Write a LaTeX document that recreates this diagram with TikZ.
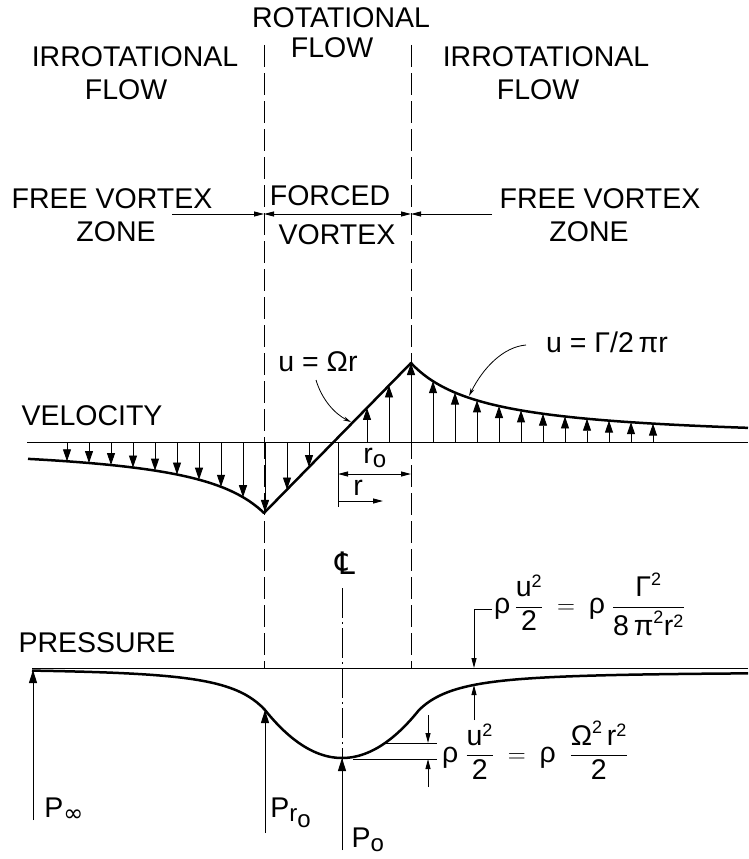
\documentclass[tikz,border=0pt]{standalone}
\usepackage{amsmath}
\usepackage{fontspec}
\setmainfont{Liberation Sans}
\newfontfamily\symfont{DejaVu Sans}
\usetikzlibrary{arrows.meta}
\newcommand{\lsub}[1]{\text{\fontsize{24}{24}\selectfont #1}}
\newcommand{\lsup}[1]{\text{\fontsize{18}{18}\selectfont #1}}

\begin{document}
\begin{tikzpicture}[x=1pt,y=-1pt,
  lbl/.style={font=\fontsize{28.5}{30}\selectfont, inner sep=0pt},
  thinline/.style={line width=1pt},
  profile/.style={line width=2.5pt, line join=round},
  zoneline/.style={line width=1pt, dash pattern=on 22pt off 6pt},
  cline/.style={line width=1pt, dash pattern=on 30pt off 4pt on 2pt off 4pt},
  vec/.style={line width=0.9pt, -{Triangle[length=12pt,width=8pt]}},
  parrow/.style={line width=1pt, -{Triangle[length=13pt,width=8pt]}},
  dim/.style={line width=1pt, -{Triangle[length=10pt,width=5pt]}},
  dimboth/.style={line width=1pt, {Triangle[length=10pt,width=5pt]}-{Triangle[length=10pt,width=5pt]}},
  leader/.style={line width=0.8pt, -{Stealth[length=8pt,width=4pt]}}]
\useasboundingbox (0,0) rectangle (748,859);

\node[lbl] (rot1) at (341,18) {ROTATIONAL};
\node[lbl] (rot2) at (332,48) {FLOW};
\node[lbl] (irrl1) at (135,57) {IRROTATIONAL};
\node[lbl] (irrl2) at (126,90) {FLOW};
\node[lbl] (irrr1) at (546,57) {IRROTATIONAL};
\node[lbl] (irrr2) at (538,90) {FLOW};
\node[lbl] (freel1) at (112,199) {FREE VORTEX};
\node[lbl] (freel2) at (116,232) {ZONE};
\node[lbl] (forced1) at (330,196) {FORCED};
\node[lbl] (forced2) at (337,235) {VORTEX};
\node[lbl] (freer1) at (600,199) {FREE VORTEX};
\node[lbl] (freer2) at (589,232) {ZONE};

\coordinate (zl) at (264,45);
\coordinate (zr) at (411,45);
\draw[zoneline] (zl) -- (264,668);
\draw[zoneline] (zr) -- (411,668);
\draw[dim] (172,214) -- (264,214);
\draw[dimboth] (264,214) -- (411,214);
\draw[dim] (492,214) -- (411,214);

\node[lbl] (vel) at (92,416) {VELOCITY};
\draw[thinline] (27,442) -- (748,442);
\draw[profile] plot[domain=28:264,samples=80] (\x,{442+71*73.5/(337.5-\x)})
  -- (411,363) -- plot[domain=411:748,samples=80] (\x,{442-79*73.5/(\x-337.5)});
\foreach \x in {67,89,...,243}
  \draw[vec] (\x,442) -- (\x,{442+71*73.5/(337.5-\x)});
\foreach \x in {265,287,309,367,389,411}
  \draw[vec] (\x,442) -- (\x,{513-(\x-264)/147*150});
\foreach \x in {433,455,...,653}
  \draw[vec] (\x,442) -- (\x,{442-79*73.5/(\x-337.5)});

\node[lbl] (omega) at (318,362) {u = Ωr};
\node[lbl] (gam) at (607,342) {u = Γ/2\,πr};
\draw[leader] (316,380) .. controls (322,400) and (335,414) .. (351,422);
\draw[leader] (526,345) .. controls (503,347) and (483,368) .. (469,396);

\draw[thinline] (338,442) -- (338,507);
\draw[dimboth] (338,474) -- (411,474);
\draw[dim] (338,501) -- (383,501);
\node[lbl] (ro) at (375,458) {$\text{r}_{\lsub{o}}$};
\node[lbl] (rr) at (358,488) {r};

\node[lbl, font=\fontsize{31}{31}\selectfont] (cl) at (345,563) {\symfont ℄};
\draw[cline] (342,588) -- (342,850);

\node[lbl] (pres) at (97,643) {PRESSURE};
\draw[thinline] (32,668) -- (748,668);
\draw[profile] plot[domain=32:265,samples=60] (\x,{668+42*(77/(342-\x))^2})
  -- plot[domain=265:419,samples=60] (\x,{758-48*((\x-342)/77)^2})
  -- plot[domain=419:748,samples=80] (\x,{672+38*(77/(\x-342))^2});

\draw[parrow] (33,820) -- (33,670);
\draw[parrow] (265,833) -- (265,710);
\draw[parrow] (342,850) -- (342,758);
\node[lbl] (pinf) at (64,810) {$\text{P}_{\lsub{\symfont ∞}}$};
\node[lbl] (pro) at (291,813) {$\text{P}_{\lsub{r}_{\lsub{o}}}$};
\node[lbl] (po) at (368,840) {$\text{P}_{\lsub{o}}$};

\draw[dim] (492,609) -- (474,609) -- (474,668);
\draw[dim] (474,720) -- (474,685);
\node[lbl, anchor=west] (pfree) at (494,604)
  {$\text{ρ}\,\dfrac{\text{u}^{\lsup{2}}}{\text{2}}\;=\;\text{ρ}\;\dfrac{\text{Γ}^{\lsup{2}}}{\text{8\,π}^{\lsup{2}}\text{r}^{\lsup{2}}}$};

\draw[thinline] (385,743) -- (437,743);
\draw[thinline] (353,759) -- (437,759);
\draw[dim] (428,715) -- (428,743);
\draw[dim] (428,787) -- (428,759);
\node[lbl, anchor=west] (pforced) at (442,750)
  {$\text{ρ}\;\dfrac{\text{u}^{\lsup{2}}}{\text{2}}\;=\;\text{ρ}\;\;\dfrac{\text{Ω}^{\lsup{2}}\,\text{r}^{\lsup{2}}}{\text{2}}$};
\end{tikzpicture}
\end{document}
